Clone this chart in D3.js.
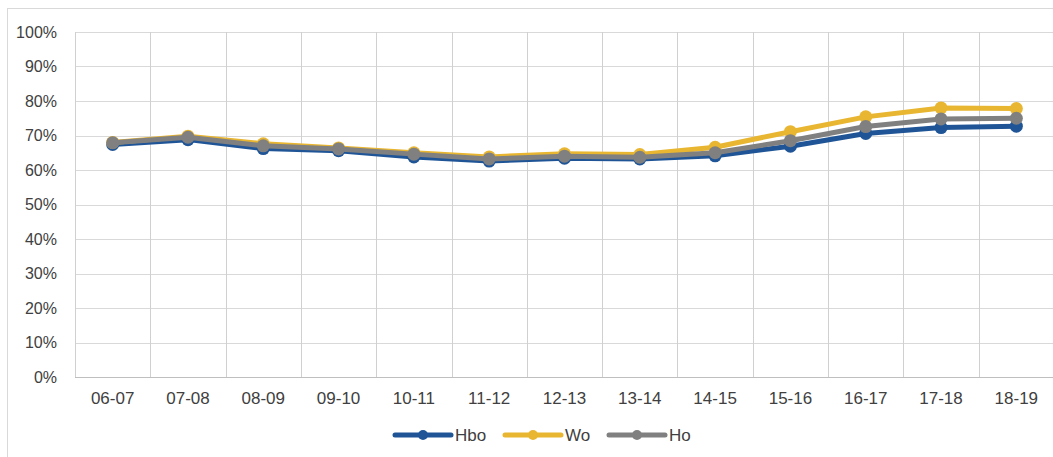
<!DOCTYPE html>
<html>
<head>
<meta charset="utf-8">
<script src="https://cdn.jsdelivr.net/npm/d3@7"></script>
<style>
  html, body { margin: 0; padding: 0; background: #fff; overflow: hidden; }
  svg { display: block; font-family: "Liberation Sans", Arial, sans-serif; }
</style>
</head>
<body>
<div id="chart"></div>
<script>
// Data
const years = ['06-07', '07-08', '08-09', '09-10', '10-11', '11-12', '12-13',
  '13-14', '14-15', '15-16', '16-17', '17-18', '18-19'];
const hbo = [67.4, 68.8, 66.2, 65.6, 63.8, 62.6, 63.4, 63.2, 64.1, 66.9, 70.6, 72.3, 72.7];
const wo = [68.0, 69.8, 67.6, 66.4, 65.0, 63.8, 64.7, 64.5, 66.6, 71.1, 75.4, 78.0, 77.8];
const ho = [67.9, 69.5, 67.0, 66.1, 64.6, 63.2, 64.0, 63.7, 65.0, 68.5, 72.6, 74.8, 75.0];
const yTicks = [0, 10, 20, 30, 40, 50, 60, 70, 80, 90, 100];

const series = [
  { name: 'Hbo', values: hbo, color: '#1f5597' },
  { name: 'Wo', values: wo, color: '#e9b631' },
  { name: 'Ho', values: ho, color: '#808080' }
];

const width = 1053, height = 457;
const plot = { left: 75, top: 32, right: 1054, bottom: 377 };

const svg = d3.select('#chart').append('svg')
  .attr('width', width)
  .attr('height', height);

// Outer chart border (continues past the right and bottom edge)
svg.append('rect')
  .attr('x', 7.5).attr('y', 8.5)
  .attr('width', 1100).attr('height', 500)
  .attr('fill', 'none')
  .attr('stroke', '#d9d9d9');

const x = d3.scaleBand().domain(years).range([plot.left, plot.right]);
const y = d3.scaleLinear().domain([0, 100]).range([plot.bottom, plot.top]);

// Horizontal grid
svg.append('g')
  .selectAll('line')
  .data(yTicks.filter(d => d > 0))
  .join('line')
  .attr('x1', plot.left).attr('x2', plot.right)
  .attr('y1', d => Math.round(y(d)) + 0.5).attr('y2', d => Math.round(y(d)) + 0.5)
  .attr('stroke', '#d9d9d9');

// Vertical grid at band boundaries
svg.append('g')
  .selectAll('line')
  .data(years)
  .join('line')
  .attr('x1', d => Math.round(x(d)) + 0.5).attr('x2', d => Math.round(x(d)) + 0.5)
  .attr('y1', plot.top).attr('y2', plot.bottom)
  .attr('stroke', '#d0d0d0');

// Bottom axis line
svg.append('line')
  .attr('x1', plot.left).attr('x2', plot.right)
  .attr('y1', Math.round(y(0)) + 0.5).attr('y2', Math.round(y(0)) + 0.5)
  .attr('stroke', '#bfbfbf');

// Y labels
svg.append('g')
  .selectAll('text')
  .data(yTicks)
  .join('text')
  .attr('x', 57)
  .attr('y', d => y(d))
  .attr('dy', '0.35em')
  .attr('text-anchor', 'end')
  .attr('font-size', 16)
  .attr('fill', '#404040')
  .text(d => d + '%');

// X labels
svg.append('g')
  .selectAll('text')
  .data(years)
  .join('text')
  .attr('x', d => x(d) + x.bandwidth() / 2)
  .attr('y', 404)
  .attr('text-anchor', 'middle')
  .attr('font-size', 17)
  .attr('fill', '#404040')
  .text(d => d);

// Lines and markers
const line = d3.line()
  .x((d, i) => x(years[i]) + x.bandwidth() / 2)
  .y(d => y(d));

series.forEach(s => {
  const g = svg.append('g');
  g.append('path')
    .datum(s.values)
    .attr('d', line)
    .attr('fill', 'none')
    .attr('stroke', s.color)
    .attr('stroke-width', 5)
    .attr('stroke-linejoin', 'round')
    .attr('stroke-linecap', 'round');
  g.selectAll('circle')
    .data(s.values)
    .join('circle')
    .attr('cx', (d, i) => x(years[i]) + x.bandwidth() / 2)
    .attr('cy', d => y(d))
    .attr('r', 6.5)
    .attr('fill', s.color);
});

// Legend
const legendX = [395, 505, 609];
const legend = svg.append('g')
  .selectAll('g')
  .data(series)
  .join('g')
  .attr('transform', (d, i) => `translate(${legendX[i]},435)`);
legend.append('line')
  .attr('x1', 0).attr('x2', 56)
  .attr('stroke', d => d.color)
  .attr('stroke-width', 5)
  .attr('stroke-linecap', 'round');
legend.append('circle')
  .attr('cx', 28).attr('r', 5)
  .attr('fill', d => d.color);
legend.append('text')
  .attr('x', 60)
  .attr('dy', '0.36em')
  .attr('font-size', 17)
  .attr('fill', '#404040')
  .text(d => d.name);
</script>
</body>
</html>
